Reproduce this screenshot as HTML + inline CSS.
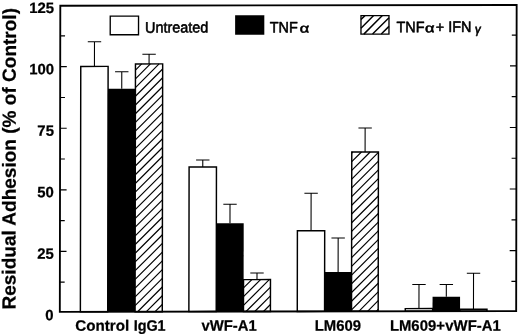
<!DOCTYPE html>
<html><head><meta charset="utf-8"><title>Residual Adhesion</title>
<style>
html,body{margin:0;padding:0;background:#fff;}
body{width:520px;height:336px;overflow:hidden;}
svg{display:block;}
text{font-family:"Liberation Sans",Arial,sans-serif;fill:#000;stroke:#000;stroke-width:0.55px;stroke-linejoin:round;}
.b{font-weight:bold;stroke-width:0.25px;}
</style></head><body>
<svg width="520" height="336" viewBox="0 0 520 336">
<rect x="0" y="0" width="520" height="336" fill="#fff"/>
<g transform="matrix(1,-0.00175,-0.0016,1,0.2688,0.4550)">

<path d="M94.28,66.11V41.46M87.58,41.46H100.98" stroke="#000" stroke-width="1.08" fill="none"/>
<rect x="80.60" y="66.11" width="27.35" height="245.39" fill="#fff" stroke="#000" stroke-width="1.45"/>
<path d="M121.62,88.46V71.51M114.92,71.51H128.32" stroke="#000" stroke-width="1.08" fill="none"/>
<rect x="107.85" y="88.46" width="27.55" height="223.04" fill="#000"/>
<path d="M148.90,63.71V54.06M142.20,54.06H155.60" stroke="#000" stroke-width="1.08" fill="none"/>
<rect x="135.30" y="63.71" width="27.20" height="247.79" fill="#fff" stroke="#000" stroke-width="1.45"/>
<path d="M135.30,69.90L141.49,63.71M135.30,78.62L150.21,63.71M135.30,87.34L158.93,63.71M135.30,96.06L162.50,68.86M135.30,104.78L162.50,77.58M135.30,113.50L162.50,86.30M135.30,122.22L162.50,95.02M135.30,130.94L162.50,103.74M135.30,139.66L162.50,112.46M135.30,148.38L162.50,121.18M135.30,157.10L162.50,129.90M135.30,165.82L162.50,138.62M135.30,174.54L162.50,147.34M135.30,183.26L162.50,156.06M135.30,191.98L162.50,164.78M135.30,200.70L162.50,173.50M135.30,209.42L162.50,182.22M135.30,218.14L162.50,190.94M135.30,226.86L162.50,199.66M135.30,235.58L162.50,208.38M135.30,244.30L162.50,217.10M135.30,253.02L162.50,225.82M135.30,261.74L162.50,234.54M135.30,270.46L162.50,243.26M135.30,279.18L162.50,251.98M135.30,287.90L162.50,260.70M135.30,296.62L162.50,269.42M135.30,305.34L162.50,278.14M137.86,311.50L162.50,286.86M146.58,311.50L162.50,295.58M155.30,311.50L162.50,304.30" stroke="#000" stroke-width="1.18" fill="none"/>
<path d="M202.77,166.90V159.90M196.07,159.90H209.47" stroke="#000" stroke-width="1.08" fill="none"/>
<rect x="189.10" y="166.90" width="27.35" height="144.60" fill="#fff" stroke="#000" stroke-width="1.45"/>
<path d="M230.07,223.15V204.20M223.38,204.20H236.77" stroke="#000" stroke-width="1.08" fill="none"/>
<rect x="216.35" y="223.15" width="27.45" height="88.35" fill="#000"/>
<path d="M257.17,279.60V273.00M250.47,273.00H263.87" stroke="#000" stroke-width="1.08" fill="none"/>
<rect x="243.70" y="279.60" width="26.95" height="31.90" fill="#fff" stroke="#000" stroke-width="1.45"/>
<path d="M243.70,287.90L252.00,279.60M243.70,296.62L260.72,279.60M243.70,305.34L269.44,279.60M246.26,311.50L270.65,287.11M254.98,311.50L270.65,295.83M263.70,311.50L270.65,304.55" stroke="#000" stroke-width="1.18" fill="none"/>
<path d="M311.15,230.89V193.34M304.45,193.34H317.85" stroke="#000" stroke-width="1.08" fill="none"/>
<rect x="297.50" y="230.89" width="27.30" height="80.61" fill="#fff" stroke="#000" stroke-width="1.45"/>
<path d="M338.27,272.14V238.14M331.57,238.14H344.97" stroke="#000" stroke-width="1.08" fill="none"/>
<rect x="324.70" y="272.14" width="27.15" height="39.36" fill="#000"/>
<path d="M365.07,152.18V128.18M358.38,128.18H371.77" stroke="#000" stroke-width="1.08" fill="none"/>
<rect x="351.75" y="152.18" width="26.65" height="159.32" fill="#fff" stroke="#000" stroke-width="1.45"/>
<path d="M351.75,153.13L352.70,152.18M351.75,161.85L361.42,152.18M351.75,170.57L370.14,152.18M351.75,179.29L378.40,152.64M351.75,188.01L378.40,161.36M351.75,196.73L378.40,170.08M351.75,205.45L378.40,178.80M351.75,214.17L378.40,187.52M351.75,222.89L378.40,196.24M351.75,231.61L378.40,204.96M351.75,240.33L378.40,213.68M351.75,249.05L378.40,222.40M351.75,257.77L378.40,231.12M351.75,266.49L378.40,239.84M351.75,275.21L378.40,248.56M351.75,283.93L378.40,257.28M351.75,292.65L378.40,266.00M351.75,301.37L378.40,274.72M351.75,310.09L378.40,283.44M359.06,311.50L378.40,292.16M367.78,311.50L378.40,300.88M376.50,311.50L378.40,309.60" stroke="#000" stroke-width="1.18" fill="none"/>
<path d="M419.18,308.88V284.78M412.48,284.78H425.88" stroke="#000" stroke-width="1.08" fill="none"/>
<rect x="405.50" y="308.88" width="27.35" height="2.62" fill="#fff" stroke="#000" stroke-width="1.45"/>
<path d="M446.52,297.03V284.83M439.82,284.83H453.22" stroke="#000" stroke-width="1.08" fill="none"/>
<rect x="432.75" y="297.03" width="27.55" height="14.47" fill="#000"/>
<path d="M473.70,309.67V273.62M467.00,273.62H480.40" stroke="#000" stroke-width="1.08" fill="none"/>
<rect x="460.20" y="309.67" width="27.00" height="1.83" fill="#fff" stroke="#000" stroke-width="1.45"/>
<rect x="60.05" y="5.4" width="456.35" height="306.10" fill="none" stroke="#000" stroke-width="1.85"/>
<path d="M60.05,35.57h4.8M516.4,35.57h-4.8" stroke="#000" stroke-width="1.15"/>
<path d="M60.05,66.35h6.6M516.4,66.35h-6.6" stroke="#000" stroke-width="1.15"/>
<path d="M60.05,97.13h4.8M516.4,97.13h-4.8" stroke="#000" stroke-width="1.15"/>
<path d="M60.05,127.91h6.6M516.4,127.91h-6.6" stroke="#000" stroke-width="1.15"/>
<path d="M60.05,158.69h4.8M516.4,158.69h-4.8" stroke="#000" stroke-width="1.15"/>
<path d="M60.05,189.47h6.6M516.4,189.47h-6.6" stroke="#000" stroke-width="1.15"/>
<path d="M60.05,220.25h4.8M516.4,220.25h-4.8" stroke="#000" stroke-width="1.15"/>
<path d="M60.05,251.03h6.6M516.4,251.03h-6.6" stroke="#000" stroke-width="1.15"/>
<path d="M60.05,281.81h4.8M516.4,281.81h-4.8" stroke="#000" stroke-width="1.15"/>
<text class="b" x="53.9" y="12.52" font-size="14.9" text-anchor="end">125</text>
<text class="b" x="53.9" y="73.97" font-size="14.9" text-anchor="end">100</text>
<text class="b" x="53.9" y="135.42" font-size="14.9" text-anchor="end">75</text>
<text class="b" x="53.9" y="196.87" font-size="14.9" text-anchor="end">50</text>
<text class="b" x="53.9" y="258.32" font-size="14.9" text-anchor="end">25</text>
<text class="b" x="53.9" y="319.77" font-size="14.9" text-anchor="end">0</text>
<text class="b" x="75.60" y="330.52" font-size="15.15" textLength="53.90" lengthAdjust="spacingAndGlyphs">Control</text>
<text class="b" x="133.90" y="330.61" font-size="15.15" textLength="32.00" lengthAdjust="spacingAndGlyphs">IgG1</text>
<text class="b" x="201.75" y="330.75" font-size="15.15" textLength="55.27" lengthAdjust="spacingAndGlyphs">vWF-A1</text>
<text class="b" x="315.00" y="330.94" font-size="15.15" textLength="46.21" lengthAdjust="spacingAndGlyphs">LM609</text>
<text class="b" x="390.20" y="331.08" font-size="15.15" textLength="54.90" lengthAdjust="spacingAndGlyphs">LM609+</text>
<text class="b" x="445.60" y="331.17" font-size="15.15" textLength="55.40" lengthAdjust="spacingAndGlyphs">vWF-A1</text>
<text class="b" transform="translate(15.7,309.1) rotate(-90)" font-size="19" textLength="301.5" lengthAdjust="spacingAndGlyphs">Residual Adhesion (% of Control)</text>
<rect x="110" y="15.9" width="28.3" height="18.6" fill="#fff" stroke="#000" stroke-width="1.35"/>
<text x="144.9" y="32.45" font-size="15.1" textLength="63.23" lengthAdjust="spacingAndGlyphs">Untreated</text>
<rect x="234.9" y="15.2" width="29.2" height="19.6" fill="#000"/>
<text x="269.6" y="32.45" font-size="15.1" textLength="27.99" lengthAdjust="spacingAndGlyphs">TNF</text>
<text transform="translate(299.5,32.45) scale(1.3,1.0) skewX(0)" font-size="12.6" stroke="#fff" stroke-width="0.55">α</text>
<rect x="360.75" y="15.8" width="28.0" height="18.5" fill="#fff" stroke="#000" stroke-width="1.35"/>
<path d="M360.75,19.73L364.68,15.80M360.75,28.45L373.40,15.80M363.62,34.30L382.12,15.80M372.34,34.30L388.75,17.89M381.06,34.30L388.75,26.61" stroke="#000" stroke-width="1.45" fill="none"/>
<text x="396.3" y="32.45" font-size="15.1" textLength="27.99" lengthAdjust="spacingAndGlyphs">TNF</text>
<text transform="translate(424.8,32.45) scale(1.3,1.0) skewX(0)" font-size="12.6" stroke="#fff" stroke-width="0.55">α</text>
<text x="435.6" y="32.45" font-size="15.1" textLength="8.41" lengthAdjust="spacingAndGlyphs">+</text>
<text x="448.0" y="32.45" font-size="15.1" textLength="23.20" lengthAdjust="spacingAndGlyphs">IFN</text>
<text transform="translate(474.3,33.7) scale(1.12,1.18) skewX(-8)" font-size="10.5" stroke="#fff" stroke-width="0.3">γ</text>
</g></svg></body></html>
